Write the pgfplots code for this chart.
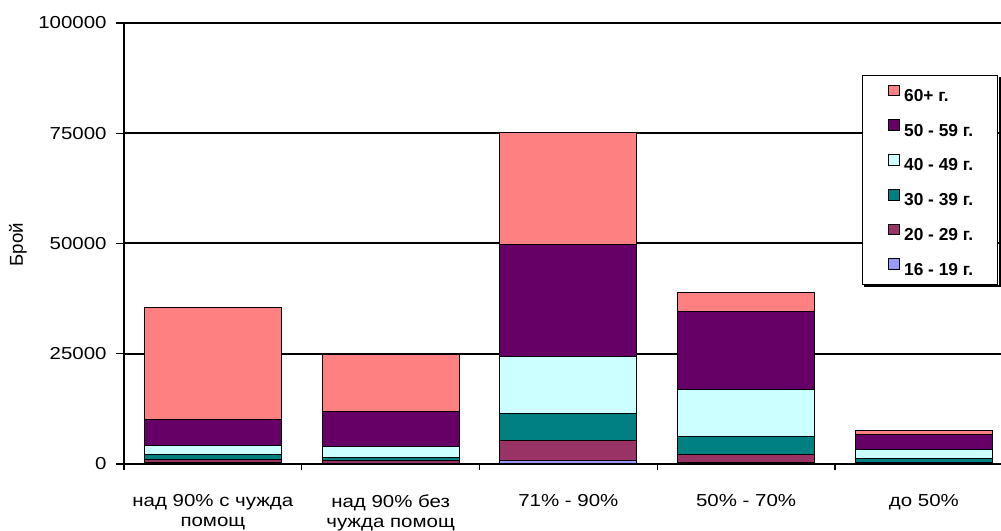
\documentclass[border=0pt]{standalone}
\usepackage{graphicx}
\usepackage{pgfplots}
\pgfplotsset{compat=1.18}
\usepackage{fontspec}
\setmainfont{Liberation Sans}
\definecolor{cA}{HTML}{9999FF}
\definecolor{cB}{HTML}{993366}
\definecolor{cC}{HTML}{008080}
\definecolor{cD}{HTML}{CCFFFF}
\definecolor{cE}{HTML}{660066}
\definecolor{cF}{HTML}{FF8080}
\newcommand{\sx}[1]{\scalebox{1.18}[1]{#1}}
\pgfplotsset{leg/.style={legend image code/.code={\path (-4.5pt,0pt); \draw[##1, draw=black, line width=0.5pt] (0pt,0pt) rectangle (8pt,8pt);}}}
\begin{document}
\begin{tikzpicture}
\begin{axis}[
  at={(93pt,50.25pt)}, anchor=south west,
  scale only axis, width=657.75pt, height=330.75pt,
  xmin=-0.5, xmax=4.4339, ymin=0, ymax=100000,
  ybar stacked, bar width=0.7707,
  axis x line=bottom, axis y line=left,
  axis line style={-, line width=1.5pt},
  tick align=outside,
  ytick={0,25000,50000,75000,100000},
  yticklabels={\sx{0},\sx{25000},\sx{50000},\sx{75000},\sx{100000}},
  scaled y ticks=false,
  ymajorgrids, major grid style={black, line width=1.5pt},
  major y tick style={black, line width=1pt},
  major tick length=6pt,
  xtick={0,1,2,3,4},
  xticklabels={{\sx{над 90\% с чужда}\\\sx{помощ}},{\sx{над 90\% без}\\\sx{чужда помощ}},{\sx{71\% - 90\%}},{\sx{50\% - 70\%}},{\sx{до 50\%}}},
  major x tick style={draw=none},
  minor xtick={-0.5,0.5,1.5,2.5,3.5},
  minor x tick style={black, line width=1pt},
  minor tick length=4.5pt,
  yticklabel style={font=\fontsize{13}{15}\selectfont, xshift=-3.5pt},
  xticklabel style={font=\fontsize{13}{15}\selectfont, align=center, anchor=north, yshift=-13.5pt},
  ylabel={Брой},
  ylabel style={at={(rel axis cs:-0.1209,0.497)}, anchor=center, font=\fontsize{14}{16}\selectfont},
  reverse legend,
  legend cell align=left,
  legend style={at={(0.841,0.882)}, anchor=north west, draw=black, line width=0.6pt, fill=white,
    name=mylegend,
    font=\bfseries\fontsize{13}{15}\selectfont,
    row sep=13.5pt, inner xsep=15pt, inner ysep=7pt,
    nodes={inner xsep=3.5pt, inner ysep=0pt, text height=8.6pt, text depth=0pt}},
]
\addplot[fill=cA, draw=black, line width=0.75pt, leg] coordinates {(0,400) (1,150) (2,850) (3,250) (4,100)};
\addplot[fill=cB, draw=black, line width=0.75pt, leg] coordinates {(0,600) (1,530) (2,4550) (3,1850) (4,350)};
\addplot[fill=cC, draw=black, line width=0.75pt, leg] coordinates {(0,1100) (1,750) (2,6100) (3,4200) (4,850)};
\addplot[fill=cD, draw=black, line width=0.75pt, leg] coordinates {(0,2200) (1,2570) (2,12900) (3,10700) (4,2100)};
\addplot[fill=cE, draw=black, line width=0.75pt, leg] coordinates {(0,5800) (1,8000) (2,25400) (3,17500) (4,3250)};
\addplot[fill=cF, draw=black, line width=0.75pt, leg] coordinates {(0,25400) (1,12800) (2,25400) (3,4400) (4,900)};
\legend{16 - 19 г.,20 - 29 г.,30 - 39 г.,40 - 49 г.,50 - 59 г.,60+ г.}
\end{axis}
\fill[black] ([shift={(0.3pt,-1.6pt)}]mylegend.north east) rectangle ([shift={(1.8pt,-1.8pt)}]mylegend.south east);
\fill[black] ([shift={(1.6pt,-0.3pt)}]mylegend.south west) rectangle ([shift={(1.8pt,-1.8pt)}]mylegend.south east);
\pgfresetboundingbox
\path[use as bounding box] (0,0) rectangle (750.75pt,398.25pt);
\end{tikzpicture}
\end{document}
